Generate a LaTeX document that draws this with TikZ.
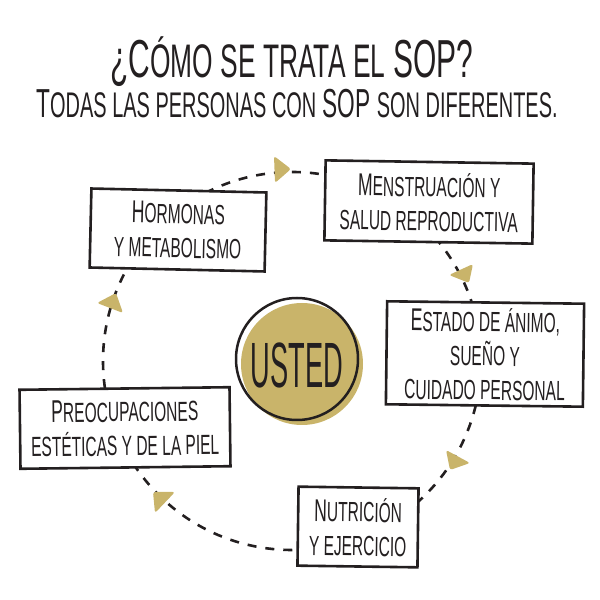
\documentclass[tikz,border=0pt]{standalone}
\usepackage{fontspec}
\setmainfont{Liberation Sans}[FakeStretch=0.56]
\definecolor{gold}{RGB}{201,180,106}
\definecolor{ink}{RGB}{35,31,32}
\newcommand\sm[1]{\scalebox{0.88}{#1}}

\begin{document}
\begin{tikzpicture}[x=1pt,y=1pt,
  topic/.style={draw=ink,fill=white,line width=2.6pt,align=center,inner sep=0pt,
    font=\fontsize{31.5}{34}\selectfont,text=ink},
  ring/.style={draw=ink,line width=2.6pt,dash pattern=on 9pt off 9pt},
  tip/.style={fill=gold,rounded corners=2.5pt}]
\useasboundingbox (0,0) rectangle (600,600);

\node[font=\fontsize{53.5}{53.5}\selectfont,text=ink,anchor=base] (title) at (292,522)
  {¿C\sm{ÓMO SE TRATA EL} SOP?};
\node[font=\fontsize{40.5}{40.5}\selectfont,text=ink,anchor=base] (subtitle) at (297,482)
  {T\sm{ODAS LAS PERSONAS CON} SOP \sm{SON DIFERENTES.}};

% dashed cycle and its tips
\coordinate (hub) at (292,239);
\draw[ring] (hub) circle[radius=189];
\fill[tip] (274,444) -- (291,431) -- (275,417) -- cycle;
\fill[tip] (473,336) -- (449,325) -- (469,317) -- cycle;
\fill[tip] (446,150) -- (470,137) -- (450,130) -- cycle;
\fill[tip] (153,108) -- (175,108) -- (155,87) -- cycle;
\fill[tip] (97,297) -- (116,307) -- (123,287) -- cycle;

% centre
\fill[gold] (302,236) circle[radius=61];
\node[circle,draw=ink,line width=2.5pt,minimum size=122,inner sep=0pt] (you) at (297,241) {};
\node[font=\fontsize{64}{64}\selectfont,text=ink,yshift=-6pt] (youtext) at (you) {\scalebox{0.76}[1]{USTED}};

% topics
\node[topic,minimum width=175,minimum height=79,rotate=-1.3] (hormones) at (178,370)
  {H\sm{ORMONAS}\\\sm{Y METABOLISMO}};
\node[topic,minimum width=208,minimum height=80,rotate=-0.9] (menses) at (429,398)
  {M\sm{ENSTRUACIÓN Y}\\\sm{SALUD REPRODUCTIVA}};
\node[topic,minimum width=197,minimum height=103,rotate=-0.7] (mood) at (485,246)
  {E\sm{STADO DE ÁNIMO,}\\\sm{SUEÑO Y}\\\sm{CUIDADO PERSONAL}};
\node[topic,minimum width=210,minimum height=79,rotate=0.7] (skin) at (125,172)
  {P\sm{REOCUPACIONES}\\\sm{ESTÉTICAS Y DE LA PIEL}};
\node[topic,minimum width=120,minimum height=79,rotate=-0.8] (food) at (358,73)
  {N\sm{UTRICIÓN}\\\sm{Y EJERCICIO}};
\end{tikzpicture}
\end{document}
